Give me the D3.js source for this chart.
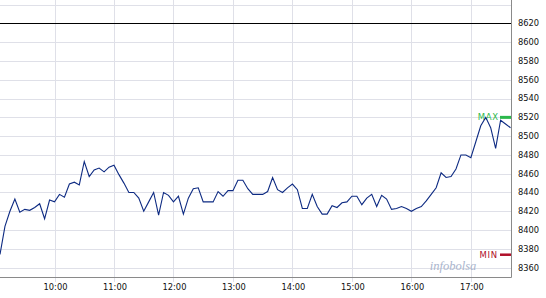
<!DOCTYPE html>
<html><head><meta charset="utf-8">
<script src="https://cdn.jsdelivr.net/npm/d3@7"></script>
<style>body{margin:0;background:#fff;}svg{display:block;}</style>
</head><body><svg id="c" width="546" height="298"></svg>
<script>
// 5-minute values starting 09:05
const startMinute = 545;
const stepMinutes = 5;
const values = [8374,8404,8420,8433,8419,8422,8421,8424,8428,8412,
8432,8430,8438,8435,8449,8451,8448,8473,8457,8464,
8466,8462,8467,8469,8459,8450,8440,8440,8434,8420,
8430,8440,8416,8440,8437,8430,8436,8417,8434,8444,
8445,8430,8430,8430,8441,8436,8442,8442,8453,8453,
8444,8438,8438,8438,8441,8456,8443,8440,8445,8449,
8443,8423,8423,8438,8425,8417,8417,8426,8424,8429,
8430,8436,8436,8427,8434,8438,8425,8437,8433,8422,
8423,8425,8423,8420,8423,8425,8431,8438,8445,8461,
8456,8457,8465,8480,8480,8477,8494,8511,8520,8509,
8487,8517,8513,8509];
const hourLabels = ["10:00","11:00","12:00","13:00","14:00","15:00","16:00","17:00"];
const hourMinutes = [600,660,720,780,840,900,960,1020];
const priceTicks = [8360,8380,8400,8420,8440,8460,8480,8500,8520,8540,8560,8580,8600,8620];
const referenceLevel = 8620;
const maxValue = 8520;
const minValue = 8374;

const svg = d3.select("#c");
const x = d3.scaleLinear().domain([545,1061]).range([0,511.5]);
const y = d3.scaleLinear().domain([8350,8645]).range([277,0]);
const right = 511, bottom = 277;

// horizontal grid
svg.append("g").selectAll("line").data(d3.range(8360,8641,20)).join("line")
  .attr("x1",0).attr("x2",right)
  .attr("y1",d=>Math.round(y(d))+0.5).attr("y2",d=>Math.round(y(d))+0.5)
  .attr("stroke","#dfe0e8").attr("stroke-width",1);
// vertical grid + ticks
svg.append("g").selectAll("line").data(hourMinutes).join("line")
  .attr("x1",d=>Math.round(x(d))+0.5).attr("x2",d=>Math.round(x(d))+0.5)
  .attr("y1",0).attr("y2",bottom+5)
  .attr("stroke","#dfe0e8").attr("stroke-width",1);

// reference line
svg.append("line").attr("x1",0).attr("x2",right)
  .attr("y1",Math.round(y(referenceLevel))+0.5).attr("y2",Math.round(y(referenceLevel))+0.5)
  .attr("stroke","#000").attr("stroke-width",1.2);

// axes lines
svg.append("line").attr("x1",0).attr("x2",right+0.5).attr("y1",bottom+0.5).attr("y2",bottom+0.5).attr("stroke","#8a8a8a");
svg.append("line").attr("x1",right+0.5).attr("x2",right+0.5).attr("y1",0).attr("y2",bottom+0.5).attr("stroke","#8a8a8a");

// axis labels
svg.append("g").selectAll("text").data(priceTicks).join("text")
  .attr("x",518).attr("y",d=>y(d)).attr("dy","0.35em")
  .attr("font-family","DejaVu Sans").attr("font-size",8.3).attr("fill","#111")
  .text(d=>d);
svg.append("g").selectAll("text").data(hourMinutes).join("text")
  .attr("x",d=>x(d)+1).attr("y",290)
  .attr("text-anchor","middle")
  .attr("font-family","DejaVu Sans").attr("font-size",8.3).attr("fill","#111")
  .text((d,i)=>hourLabels[i]);

// watermark
svg.append("text").attr("x",453).attr("y",270).attr("text-anchor","middle")
  .attr("font-family","Liberation Serif").attr("font-style","italic").attr("font-size",12.5)
  .attr("fill","#aab5cd").text("infobolsa");

// max/min markers
svg.append("rect").attr("x",500).attr("width",11).attr("y",y(maxValue)-1.5).attr("height",3).attr("fill","#2cb84c");
svg.append("text").attr("x",499).attr("y",y(maxValue)).attr("dy","0.36em").attr("text-anchor","end")
  .attr("font-family","DejaVu Sans").attr("font-size",8.5).attr("letter-spacing",0.8).attr("fill","#2cb84c").text("MAX");
svg.append("rect").attr("x",500).attr("width",11).attr("y",y(minValue)-1).attr("height",2.5).attr("fill","#b0102a");
svg.append("text").attr("x",498).attr("y",y(minValue)).attr("dy","0.36em").attr("text-anchor","end")
  .attr("font-family","DejaVu Sans").attr("font-size",8.5).attr("letter-spacing",0.8).attr("fill","#b0102a").text("MIN");

// line
const line = d3.line().x((d,i)=>x(startMinute+i*stepMinutes)).y(d=>y(d));
svg.append("path").datum(values).attr("d",line)
  .attr("fill","none").attr("stroke","#0d2a82").attr("stroke-width",1.1);
</script></body></html>
